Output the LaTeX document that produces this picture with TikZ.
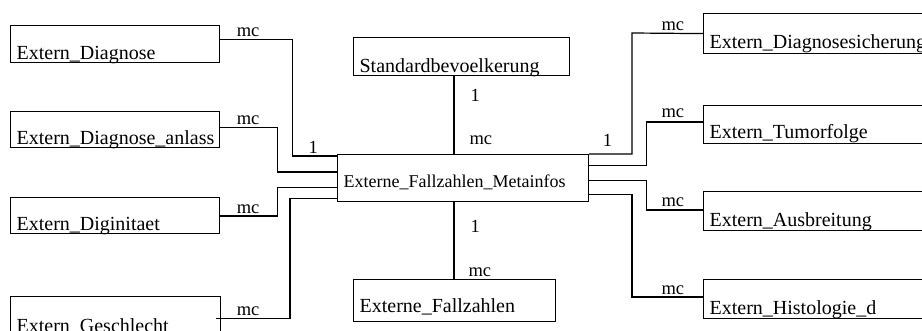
\documentclass[tikz,border=0pt]{standalone}
\usepackage{fontspec}
\setmainfont{Liberation Serif}
\hyphenpenalty=10000
\tikzstyle{entity}=[draw,rectangle,anchor=north west,inner xsep=6pt,inner ysep=0pt,align=left,line width=1.2pt,font=\fontsize{20}{24}\selectfont]
\tikzstyle{card}=[inner sep=0pt,anchor=base west,font=\fontsize{18.5}{22}\selectfont]
\tikzstyle{rel}=[line width=1.2pt]

\begin{document}
\begin{tikzpicture}[x=1pt,y=-1pt]
\clip (0,0) rectangle (922,331);

% tables on the left
\node[entity,text width=197pt,text height=34.3pt,text depth=2.7pt] (diag) at (10,25) {Extern\_Diagnose};
\node[entity,text width=197pt,text height=32.5pt,text depth=3.5pt] (anlass) at (10,111) {Extern\_Diagnose\_anlass};
\node[entity,text width=197pt,text height=33pt,text depth=3pt] (digin) at (10,197) {Extern\_Diginitaet};
\node[entity,text width=198pt,text height=36pt,text depth=8.6pt] (geschl) at (10,296) {Extern\_Geschlecht};

% middle column
\node[entity,text width=204pt,text height=34.7pt,text depth=3.3pt] (std) at (353,37) {Standardbevoelkerung};
\node[entity,text width=239pt,text height=32.7pt,text depth=14.3pt,font=\fontsize{18}{22}\selectfont] (meta) at (337,154) {Externe\_Fallzahlen\_Metainfos};
\node[entity,text width=190pt,text height=32.7pt,text depth=9.3pt] (fz) at (353,279) {Externe\_Fallzahlen};

% tables on the right
\node[entity,text width=218pt,text height=34.7pt,text depth=5.3pt] (sicher) at (703,13) {Extern\_Diagnosesicherung};
\node[entity,text width=218pt,text height=33.3pt,text depth=4.7pt] (tumor) at (703,105) {Extern\_Tumorfolge};
\node[entity,text width=218pt,text height=34.7pt,text depth=4.3pt] (ausbr) at (703,191) {Extern\_Ausbreitung};
\node[entity,text width=218pt,text height=35pt,text depth=4pt] (histo) at (703,279) {Extern\_Histologie\_d};

% relations to the left
\draw[rel] (diag.east |- 0,39.3) node[card,xshift=16pt,yshift=2.6pt] (mc1) {mc} -| (292.3,156) node[card,xshift=15.7pt,yshift=2pt] (one1) {1} -- (meta.west |- 0,156);
\draw[rel] (anlass.east |- 0,127.3) node[card,xshift=16pt,yshift=2.5pt] (mc2) {mc} -| (277.7,172) -- (meta.west |- 0,172);
\draw[rel] (digin.east |- 0,216) node[card,xshift=16pt,yshift=2.7pt] (mc3) {mc} -| (277.7,187.3) -- (meta.west |- 0,187.3);
\draw[rel] ([xshift=-5pt]geschl.east) node[card,xshift=20pt,yshift=3.3pt] (mc4) {mc} -| (290,198.7) -- (meta.west |- 0,198.7);

% relations to the right
\draw[rel] (meta.east |- 0,154) node[card,xshift=13pt,yshift=7.3pt] (one2) {1} -| (632,33) node[card,xshift=29pt,yshift=2.3pt] (mc5) {mc} -- (sicher.west);
\draw[rel] (meta.east |- 0,165.7) -| (646.7,122) node[card,xshift=14.3pt,yshift=4.7pt] (mc6) {mc} -- (tumor.west |- 0,122);
\draw[rel] (meta.east |- 0,180.7) -| (646.7,210) node[card,xshift=14.3pt,yshift=3.3pt] (mc7) {mc} -- (ausbr.west |- 0,210);
\draw[rel] (meta.east |- 0,194.3) -| (632,297) node[card,xshift=29pt,yshift=2.7pt] (mc8) {mc} -- (histo.west |- 0,297);

% up and down
\coordinate (spine) at (454,0);
\draw[rel] (std.south -| spine) node[card,xshift=16pt,yshift=-25pt] (one3) {1} -- (meta.north -| spine) node[card,xshift=15pt,yshift=9pt] (mc9) {mc};
\draw[rel] (meta.south -| spine) node[card,xshift=16pt,yshift=-30.7pt] (one4) {1} -- (fz.north -| spine) node[card,xshift=14pt,yshift=2.3pt] (mc10) {mc};
\end{tikzpicture}
\end{document}
